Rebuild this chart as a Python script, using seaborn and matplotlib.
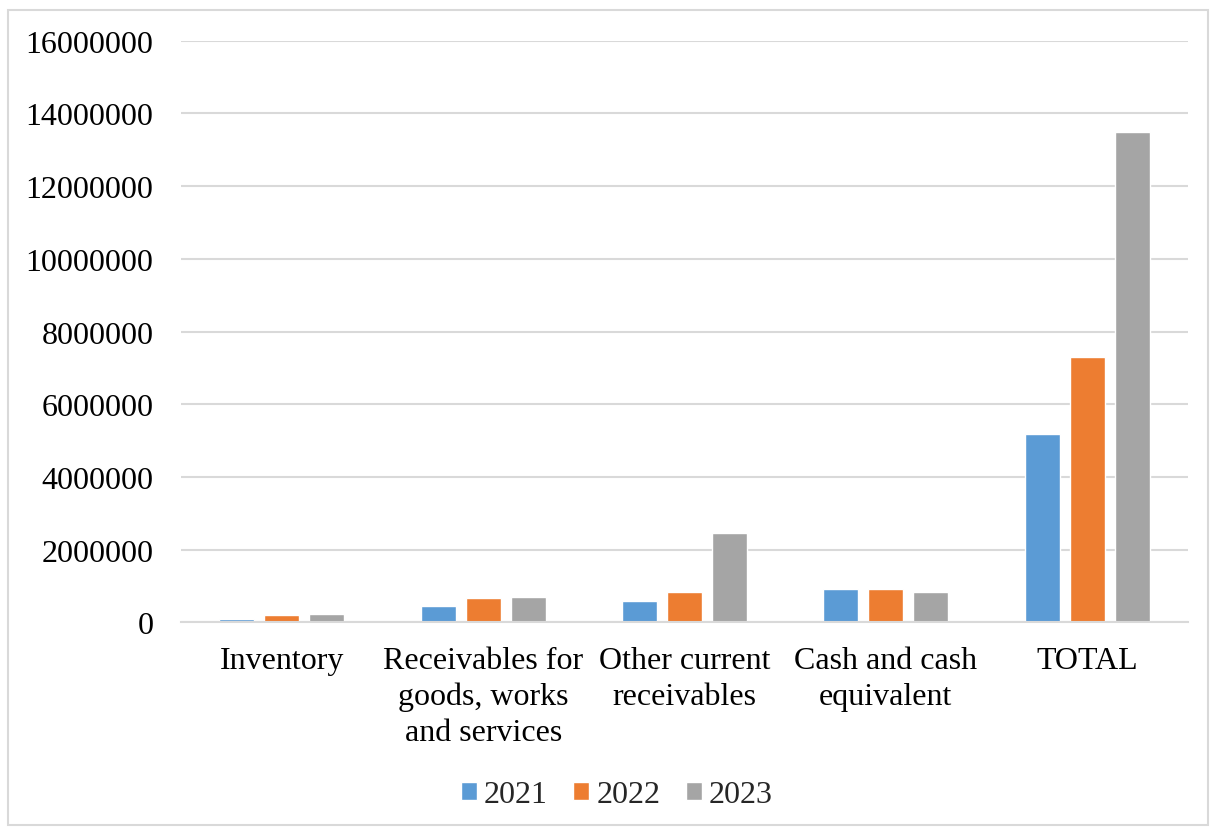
import matplotlib
matplotlib.use("Agg")
import matplotlib.pyplot as plt
import seaborn as sns
import pandas as pd
from matplotlib.patches import Rectangle

categories = ["Inventory", "Receivables for\ngoods, works\nand services",
              "Other current\nreceivables", "Cash and cash\nequivalent", "TOTAL"]
years = ["2021", "2022", "2023"]
v2021 = [92000, 441000, 588000, 909000, 5170000]
v2022 = [202000, 661000, 826000, 909000, 7300000]
v2023 = [239000, 689000, 2460000, 826000, 13500000]
yticks = [0, 2000000, 4000000, 6000000, 8000000, 10000000, 12000000, 14000000, 16000000]
colors = ["#5B9BD5", "#ED7D31", "#A5A5A5"]

rows = []
for yr, vals in zip(years, [v2021, v2022, v2023]):
    for c, v in zip(categories, vals):
        rows.append({"cat": c, "year": yr, "value": v})
df = pd.DataFrame(rows)

sns.set_theme(style="white")
plt.rcParams["font.family"] = ["Liberation Serif", "DejaVu Serif"]

fig = plt.figure(figsize=(12.11, 8.29), dpi=100)
ax = fig.add_axes([0.1495, 0.2481, 0.981 - 0.1495, 0.9497 - 0.2481])
sns.barplot(data=df, x="cat", y="value", hue="year", palette=colors,
            width=0.67, gap=0.22, ax=ax, order=categories, hue_order=years,
            saturation=1, legend=True)

ax.set_ylim(0, 16000000)
ax.set_yticks(yticks)
ax.set_yticklabels([str(t) for t in yticks])
ax.set_xlim(-0.5, 4.5)
ax.yaxis.grid(True, color="#D9D9D9", linewidth=1.5)
ax.set_axisbelow(True)
for s in ["top", "right", "left"]:
    ax.spines[s].set_visible(False)
ax.spines["bottom"].set_color("#D9D9D9")
ax.spines["bottom"].set_linewidth(1.5)
ax.tick_params(axis="y", length=0, pad=20, labelsize=23, labelcolor="#000000")
ax.tick_params(axis="x", length=0, pad=17, labelsize=23, labelcolor="#000000")
for lab in ax.get_xticklabels():
    lab.set_linespacing(1.31)
ax.set_xlabel("")
ax.set_ylabel("")

leg = ax.legend(loc="center", bbox_to_anchor=(617 / 1211, 1 - 796 / 829),
                bbox_transform=fig.transFigure, ncol=3, frameon=False,
                fontsize=23, handlelength=0.5, handleheight=0.5,
                handletextpad=0.22, columnspacing=0.8)

fig.patches.append(Rectangle((8 / 1211, 3 / 829), (1208 - 8) / 1211, (818 - 3) / 829,
                             transform=fig.transFigure, fill=False,
                             edgecolor="#D9D9D9", linewidth=1.5))

fig.savefig("out.png", dpi=100)
